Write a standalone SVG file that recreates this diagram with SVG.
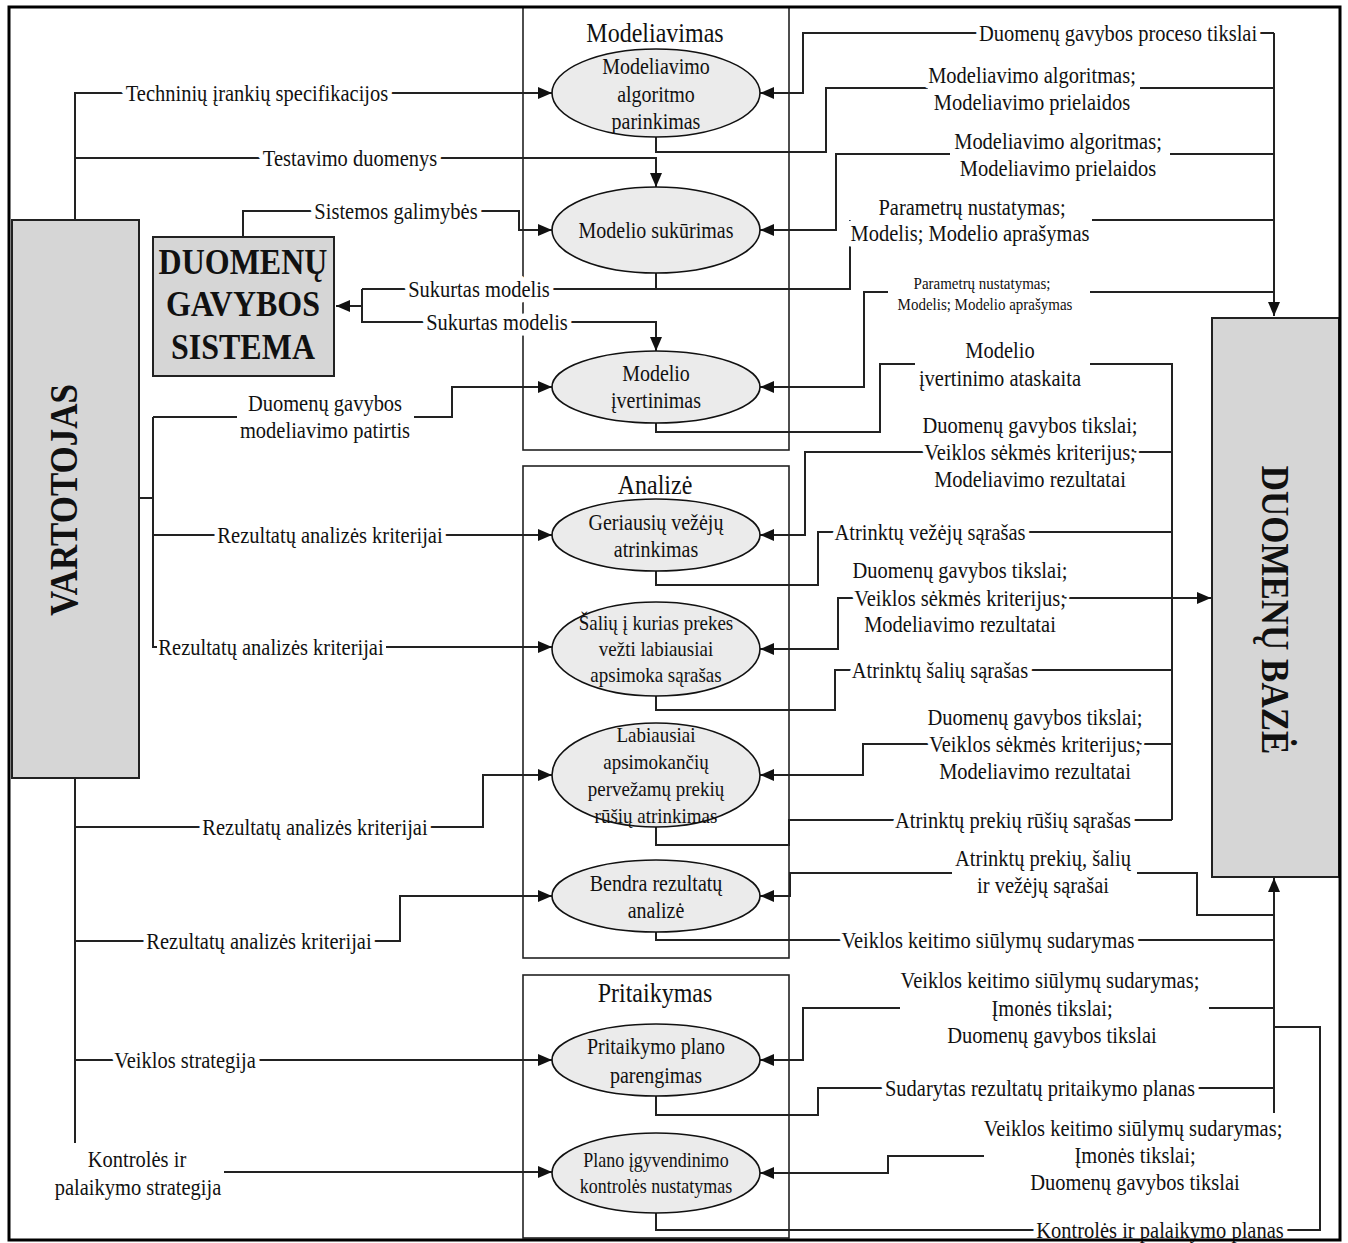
<svg xmlns="http://www.w3.org/2000/svg" width="1348" height="1243" viewBox="0 0 1348 1243">
<defs>
<marker id="arrow" markerUnits="userSpaceOnUse" markerWidth="14" markerHeight="12" viewBox="0 0 14 12" refX="14" refY="6" orient="auto"><path d="M0,0 L14,6 L0,12 Z" fill="#111"/></marker>
<style>
text { font-family: "Liberation Serif", "Times New Roman", serif; fill: #111; }
.t { transform-box: fill-box; transform-origin: center; transform: scaleY(1.12); }
.lbl { font-size: 20.5px; text-anchor: middle; stroke: #fff; stroke-width: 10px; paint-order: stroke; stroke-linejoin: round; }
.plain { stroke: none; }
.sm { font-size: 15px; }
.el { font-size: 20px; text-anchor: middle; }
.el19 { font-size: 19px; text-anchor: middle; }
.el18 { font-size: 18px; text-anchor: middle; }
.big { font-weight: bold; text-anchor: middle; }
.title { font-size: 24px; text-anchor: middle; }
.cn path { fill: none; stroke: #222; stroke-width: 2; }
.cn path.arr { marker-end: url(#arrow); }
.ell { fill: #ebebeb; stroke: #111; stroke-width: 1.6; }
.box { fill: #d6d6d6; stroke: #222; stroke-width: 2; }
.grp { fill: none; stroke: #222; stroke-width: 1.6; }
</style>
</defs>

<rect width="1348" height="1243" fill="#fff"/>

<!-- phase frames -->
<g id="frames">
  <rect class="grp" x="523" y="7" width="266" height="443"/>
  <rect class="grp" x="523" y="466" width="266" height="492"/>
  <rect class="grp" x="523" y="975" width="266" height="263"/>
  <text class="title t" x="655" y="41">Modeliavimas</text>
  <text class="title t" x="655" y="493">Analizė</text>
  <text class="title t" x="655" y="1001">Pritaikymas</text>
</g>

<!-- connectors -->
<g id="connectors" class="cn">
  <!-- user side -->
  <path class="arr" d="M75,219 V93 H552"/>
  <path class="arr" d="M75,158 H656 V187"/>
  <path class="arr" d="M243,237 V211 H519 V230 H552"/>
  <path d="M656,273 V289"/>
  <path d="M362,289 H850 V220"/>
  <path class="arr" d="M362,289 V322 H656 V351"/>
  <path class="arr" d="M362,306 H336"/>
  <path d="M139,498 H153"/>
  <path d="M153,417 H237"/>
  <path class="arr" d="M414,417 H452 V387 H552"/>
  <path d="M153,417 V647 H157"/>
  <path class="arr" d="M386,647 H552"/>
  <path class="arr" d="M153,535 H552"/>
  <path d="M75,778 V1143"/>
  <path class="arr" d="M75,827 H483 V775 H552"/>
  <path class="arr" d="M75,941 H400 V896 H552"/>
  <path class="arr" d="M75,1060 H552"/>
  <path class="arr" d="M224,1172 H552"/>
  <!-- database side -->
  <path class="arr" d="M1274,33 V316"/>
  <path class="arr" d="M1274,33 H803 V93 H760"/>
  <path d="M656,137 V152 H826 V88 H928"/>
  <path d="M1140,88 H1274"/>
  <path d="M1274,154 H1170"/>
  <path class="arr" d="M950,154 H836 V230 H760"/>
  <path d="M1092,220 H1274"/>
  <path d="M1274,292 H1090"/>
  <path class="arr" d="M888,292 H864 V387 H760"/>
  <path d="M656,423 V432 H880 V364 H915"/>
  <path d="M1090,364 H1172 V820"/>
  <path class="arr" d="M1172,452 H805 V535 H760"/>
  <path d="M656,571 V585 H818 V532 H1172"/>
  <path class="arr" d="M1172,598 H838 V649 H760"/>
  <path class="arr" d="M1172,598 H1211"/>
  <path d="M656,696 V710 H835 V670 H1172"/>
  <path class="arr" d="M1172,744 H863 V775 H760"/>
  <path d="M656,827 V845 H789 V820 H1172"/>
  <path class="arr" d="M952,873 H790 V896 H760"/>
  <path d="M1137,873 H1197 V915 H1274"/>
  <path class="arr" d="M1274,1113 V878"/>
  <path d="M656,932 V940 H1274"/>
  <path d="M1274,1008 H1209"/>
  <path class="arr" d="M900,1008 H803 V1060 H760"/>
  <path d="M656,1096 V1115 H818 V1088 H1274"/>
  <path d="M1274,1027 H1320 V1230 H656 V1213"/>
  <path class="arr" d="M984,1156 H888 V1173 H760"/>
</g>

<!-- connector labels -->
<g id="connector-labels">
  <text class="lbl t" x="257" y="100">Techninių įrankių specifikacijos</text>
  <text class="lbl t" x="350" y="165">Testavimo duomenys</text>
  <text class="lbl t" x="396" y="218">Sistemos galimybės</text>
  <text class="lbl t" x="479" y="296">Sukurtas modelis</text>
  <text class="lbl t" x="497" y="329">Sukurtas modelis</text>
  <text class="lbl t" x="325" y="410">Duomenų gavybos</text>
  <text class="lbl t" x="325" y="437">modeliavimo patirtis</text>
  <text class="lbl t" x="330" y="542">Rezultatų analizės kriterijai</text>
  <text class="lbl plain t" x="271" y="654">Rezultatų analizės kriterijai</text>
  <text class="lbl t" x="315" y="834">Rezultatų analizės kriterijai</text>
  <text class="lbl t" x="259" y="948">Rezultatų analizės kriterijai</text>
  <text class="lbl t" x="185" y="1067">Veiklos strategija</text>
  <text class="lbl t" x="137" y="1166">Kontrolės ir</text>
  <text class="lbl t" x="138" y="1194">palaikymo strategija</text>

  <text class="lbl t" x="1118" y="40">Duomenų gavybos proceso tikslai</text>
  <text class="lbl t" x="1032" y="82">Modeliavimo algoritmas;</text>
  <text class="lbl t" x="1032" y="109">Modeliavimo prielaidos</text>
  <text class="lbl t" x="1058" y="148">Modeliavimo algoritmas;</text>
  <text class="lbl t" x="1058" y="175">Modeliavimo prielaidos</text>
  <text class="lbl t" x="972" y="214">Parametrų nustatymas;</text>
  <text class="lbl t" x="970" y="240">Modelis; Modelio aprašymas</text>
  <text class="lbl sm t" x="982" y="288">Parametrų nustatymas;</text>
  <text class="lbl sm t" x="985" y="309">Modelis; Modelio aprašymas</text>
  <text class="lbl t" x="1000" y="357">Modelio</text>
  <text class="lbl t" x="1000" y="385">įvertinimo ataskaita</text>
  <text class="lbl t" x="1030" y="432">Duomenų gavybos tikslai;</text>
  <text class="lbl t" x="1030" y="459">Veiklos sėkmės kriterijus;</text>
  <text class="lbl t" x="1030" y="486">Modeliavimo rezultatai</text>
  <text class="lbl t" x="930" y="539">Atrinktų vežėjų sąrašas</text>
  <text class="lbl t" x="960" y="577">Duomenų gavybos tikslai;</text>
  <text class="lbl t" x="960" y="605">Veiklos sėkmės kriterijus;</text>
  <text class="lbl t" x="960" y="631">Modeliavimo rezultatai</text>
  <text class="lbl t" x="940" y="677">Atrinktų šalių sąrašas</text>
  <text class="lbl t" x="1035" y="724">Duomenų gavybos tikslai;</text>
  <text class="lbl t" x="1035" y="751">Veiklos sėkmės kriterijus;</text>
  <text class="lbl t" x="1035" y="778">Modeliavimo rezultatai</text>
  <text class="lbl t" x="1013" y="827">Atrinktų prekių rūšių sąrašas</text>
  <text class="lbl t" x="1043" y="865">Atrinktų prekių, šalių</text>
  <text class="lbl t" x="1043" y="892">ir vežėjų sąrašai</text>
  <text class="lbl t" x="988" y="947">Veiklos keitimo siūlymų sudarymas</text>
  <text class="lbl t" x="1050" y="987">Veiklos keitimo siūlymų sudarymas;</text>
  <text class="lbl t" x="1052" y="1015">Įmonės tikslai;</text>
  <text class="lbl t" x="1052" y="1042">Duomenų gavybos tikslai</text>
  <text class="lbl t" x="1040" y="1095">Sudarytas rezultatų pritaikymo planas</text>
  <text class="lbl t" x="1133" y="1135">Veiklos keitimo siūlymų sudarymas;</text>
  <text class="lbl t" x="1135" y="1162">Įmonės tikslai;</text>
  <text class="lbl t" x="1135" y="1189">Duomenų gavybos tikslai</text>
  <text class="lbl t" x="1160" y="1237">Kontrolės ir palaikymo planas</text>
</g>

<!-- external entities -->
<g id="vartotojas">
  <rect class="box" x="12" y="220" width="127" height="558"/>
  <g transform="translate(64 500) rotate(-90)"><text class="big t" x="0" y="12" font-size="35">VARTOTOJAS</text></g>
</g>
<g id="duomenu-baze">
  <rect class="box" x="1212" y="318" width="127" height="559"/>
  <g transform="translate(1275 610) rotate(90)"><text class="big t" x="0" y="12" font-size="35">DUOMENŲ BAZĖ</text></g>
</g>
<g id="duomenu-gavybos-sistema">
  <rect class="box" x="153" y="237" width="181" height="139"/>
  <text class="big t" x="243" y="273" font-size="32">DUOMENŲ</text>
  <text class="big t" x="243" y="315" font-size="32">GAVYBOS</text>
  <text class="big t" x="243" y="358" font-size="32">SISTEMA</text>
</g>

<!-- processes -->
<g id="modeliavimo-algoritmo-parinkimas">
  <ellipse class="ell" cx="656" cy="93" rx="104" ry="44"/>
  <text class="el t" x="656" y="73">Modeliavimo</text>
  <text class="el t" x="656" y="101">algoritmo</text>
  <text class="el t" x="656" y="128">parinkimas</text>
</g>
<g id="modelio-sukurimas">
  <ellipse class="ell" cx="656" cy="230" rx="104" ry="43"/>
  <text class="el t" x="656" y="237">Modelio sukūrimas</text>
</g>
<g id="modelio-ivertinimas">
  <ellipse class="ell" cx="656" cy="387" rx="104" ry="36"/>
  <text class="el t" x="656" y="380">Modelio</text>
  <text class="el t" x="656" y="407">įvertinimas</text>
</g>
<g id="geriausiu-vezeju-atrinkimas">
  <ellipse class="ell" cx="656" cy="535" rx="104" ry="36"/>
  <text class="el t" x="656" y="529">Geriausių vežėjų</text>
  <text class="el t" x="656" y="556">atrinkimas</text>
</g>
<g id="saliu-sarasas">
  <ellipse class="ell" cx="656" cy="649" rx="104" ry="47"/>
  <text class="el19 t" x="656" y="629">Šalių į kurias prekes</text>
  <text class="el19 t" x="656" y="655">vežti labiausiai</text>
  <text class="el19 t" x="656" y="681">apsimoka sąrašas</text>
</g>
<g id="prekiu-rusiu-atrinkimas">
  <ellipse class="ell" cx="656" cy="775" rx="104" ry="52"/>
  <text class="el19 t" x="656" y="741">Labiausiai</text>
  <text class="el19 t" x="656" y="768">apsimokančių</text>
  <text class="el19 t" x="656" y="795">pervežamų prekių</text>
  <text class="el19 t" x="656" y="822">rūšių atrinkimas</text>
</g>
<g id="bendra-rezultatu-analize">
  <ellipse class="ell" cx="656" cy="896" rx="104" ry="36"/>
  <text class="el t" x="656" y="890">Bendra rezultatų</text>
  <text class="el t" x="656" y="917">analizė</text>
</g>
<g id="pritaikymo-plano-parengimas">
  <ellipse class="ell" cx="656" cy="1060" rx="104" ry="36"/>
  <text class="el t" x="656" y="1053">Pritaikymo plano</text>
  <text class="el t" x="656" y="1082">parengimas</text>
</g>
<g id="plano-kontroles-nustatymas">
  <ellipse class="ell" cx="656" cy="1173" rx="104" ry="40"/>
  <text class="el18 t" x="656" y="1166">Plano įgyvendinimo</text>
  <text class="el18 t" x="656" y="1192">kontrolės nustatymas</text>
</g>

<rect x="9" y="7" width="1331" height="1233" fill="none" stroke="#000" stroke-width="3"/>
</svg>
